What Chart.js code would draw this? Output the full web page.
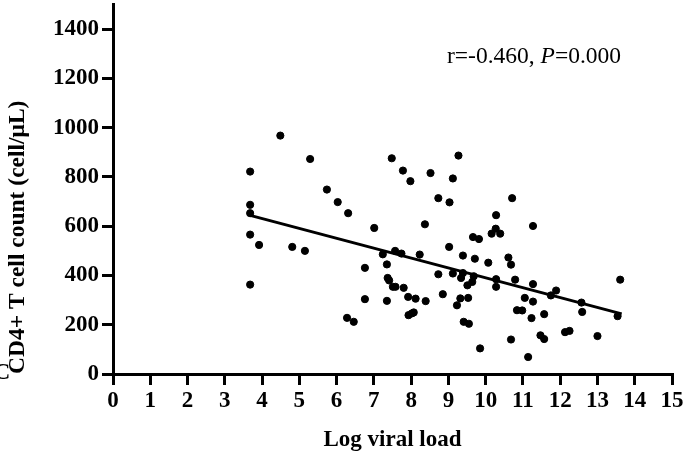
<!DOCTYPE html>
<html>
<head>
<meta charset="utf-8">
<script src="https://cdn.jsdelivr.net/npm/chart.js@4.4.1/dist/chart.umd.min.js"></script>
<style>
  html, body { margin: 0; padding: 0; background: #fff; }
  #wrap { width: 685px; height: 456px; position: relative; }
</style>
</head>
<body>
<div id="wrap"><canvas id="scatterChart"></canvas></div>
<script>
// Log viral load vs CD4+ T cell count
const viralLoad = [
    4.49, 5.29, 3.68, 7.48, 7.78, 7.98, 8.52, 5.74, 6.03, 6.31,
    3.68, 3.68, 7.01, 8.37, 3.68, 3.92, 4.81, 5.15, 3.68, 7.24,
    7.57, 7.74, 8.23, 6.76, 7.35, 7.37, 7.41, 7.51, 7.58, 7.80,
    7.92, 8.12, 8.39, 6.76, 7.35, 6.28, 6.46, 7.93, 8.02, 8.07,
    9.27, 9.12, 8.73, 9.03, 10.71, 10.28, 11.27, 10.27, 10.16, 10.39,
    9.66, 9.82, 9.02, 9.39, 9.71, 10.07, 10.61, 10.68, 8.73, 9.12,
    9.39, 9.34, 9.68, 9.64, 9.51, 10.28, 10.28, 10.79, 11.27, 8.85,
    9.32, 9.23, 9.53, 9.41, 9.55, 9.85, 11.05, 11.27, 10.84, 10.98,
    11.23, 11.57, 10.68, 11.14, 11.47, 11.57, 11.75, 11.89, 12.57, 12.59,
    12.13, 12.25, 13.00, 13.54, 13.61
];
const cd4Count = [
    968, 873, 822, 876, 826, 783, 816, 749, 698, 653,
    687, 653, 593, 608, 566, 524, 516, 500, 363, 486,
    500, 489, 485, 431, 445, 390, 380, 354, 354, 350,
    313, 306, 296, 304, 297, 228, 212, 239, 246, 250,
    887, 794, 714, 697, 714, 645, 601, 590, 570, 570,
    556, 548, 516, 481, 468, 452, 473, 444, 405, 408,
    410, 390, 397, 374, 360, 385, 354, 383, 365, 324,
    307, 279, 309, 212, 204, 104, 309, 294, 259, 258,
    227, 243, 140, 69, 157, 142, 319, 339, 290, 252,
    170, 175, 154, 235, 383
];

// regression line end points
const fitX = [3.68, 13.65];
const fitY = [644, 244];

const xTicks = [0, 15, 1];       // min, max, step
const yTickValues = [0, 200, 400, 600, 800, 1000, 1200, 1400];
const yAxisMax = 1500;

const serif = "'Liberation Serif', 'DejaVu Serif', serif";

const points = viralLoad.map((x, i) => ({ x, y: cd4Count[i] }));
const fitLine = fitX.map((x, i) => ({ x, y: fitY[i] }));

// teks r dan P di pojok kanan atas
const statLabel = {
    id: 'statLabel',
    afterDraw(chart) {
        const ctx = chart.ctx;
        ctx.save();
        ctx.fillStyle = '#000';
        ctx.textBaseline = 'alphabetic';
        let x = 447;
        const y = 63;
        const parts = [
            ['r=-0.460, ', 'normal'],
            ['P', 'italic'],
            ['=0.000', 'normal']
        ];
        parts.forEach(([t, style]) => {
            ctx.font = style + ' 23.5px ' + serif;
            ctx.fillText(t, x, y);
            x += ctx.measureText(t).width;
        });
        // potongan label panel di kiri bawah
        ctx.font = 'bold 24px ' + serif;
        ctx.fillText('C', -7, 379);
        ctx.restore();
    }
};

new Chart(document.getElementById('scatterChart'), {
    type: 'scatter',
    data: {
        datasets: [
            {
                label: 'data',
                data: points,
                backgroundColor: '#000',
                borderColor: '#000',
                pointRadius: 3.6,
                pointHoverRadius: 3.6
            },
            {
                type: 'line',
                label: 'fit',
                data: fitLine,
                borderColor: '#000',
                borderWidth: 3,
                pointRadius: 0,
                fill: false
            }
        ]
    },
    options: {
        responsive: true,
        maintainAspectRatio: false,
        animation: false,
        layout: { padding: { top: 3, right: 13, left: 0, bottom: 0 } },
        plugins: {
            legend: { display: false },
            tooltip: { enabled: false }
        },
        scales: {
            x: {
                type: 'linear',
                min: xTicks[0],
                max: xTicks[1],
                afterFit: (s) => { s.height = 82; s.paddingLeft = 0; s.paddingRight = 0; },
                border: { display: true, width: 3, color: '#000' },
                grid: { drawOnChartArea: false, drawTicks: true, tickLength: 11, lineWidth: 3, color: '#000' },
                ticks: {
                    stepSize: xTicks[2],
                    color: '#000',
                    padding: 2,
                    maxRotation: 0,
                    autoSkip: false,
                    font: { family: serif, size: 23, weight: 'bold' }
                },
                title: {
                    display: true,
                    text: 'Log viral load',
                    color: '#000',
                    padding: { top: 0, bottom: 2 },
                    font: { family: serif, size: 23, weight: 'bold' }
                }
            },
            y: {
                type: 'linear',
                min: yTickValues[0],
                max: yAxisMax,
                afterFit: (s) => { s.width = 113; s.paddingTop = 0; s.paddingBottom = 0; },
                // tick 1500 tidak dipakai, hanya 0..1400
                afterBuildTicks: (s) => {
                    s.ticks = yTickValues.map(v => ({ value: v }));
                },
                border: { display: true, width: 3, color: '#000' },
                grid: { drawOnChartArea: false, drawTicks: true, tickLength: 11, lineWidth: 3, color: '#000' },
                ticks: {
                    color: '#000',
                    padding: 3,
                    autoSkip: false,
                    callback: (v) => String(v),
                    font: { family: serif, size: 23, weight: 'bold' }
                },
                title: {
                    display: true,
                    text: 'CD4+ T cell count (cell/μL)',
                    align: 'start',
                    color: '#000',
                    padding: { top: 4, bottom: 0 },
                    font: { family: serif, size: 23.5, weight: 'bold' }
                }
            }
        }
    },
    plugins: [statLabel]
});
</script>
</body>
</html>
